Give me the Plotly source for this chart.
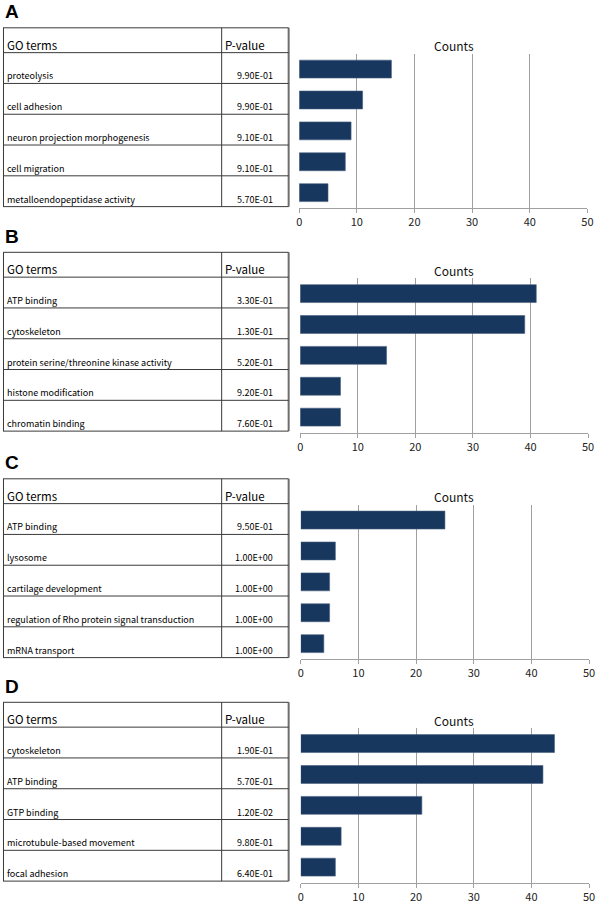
import plotly.graph_objects as go

# ---------------- data ----------------
panel_letters = ["A", "B", "C", "D"]

terms_A = ["proteolysis", "cell adhesion", "neuron projection morphogenesis",
           "cell migration", "metalloendopeptidase activity"]
pvals_A = ["9.90E-01", "9.90E-01", "9.10E-01", "9.10E-01", "5.70E-01"]
counts_A = [16, 11, 9, 8, 5]

terms_B = ["ATP binding", "cytoskeleton", "protein serine/threonine kinase activity",
           "histone modification", "chromatin binding"]
pvals_B = ["3.30E-01", "1.30E-01", "5.20E-01", "9.20E-01", "7.60E-01"]
counts_B = [41, 39, 15, 7, 7]

terms_C = ["ATP binding", "lysosome", "cartilage development",
           "regulation of Rho protein signal transduction", "mRNA transport"]
pvals_C = ["9.50E-01", "1.00E+00", "1.00E+00", "1.00E+00", "1.00E+00"]
counts_C = [25, 6, 5, 5, 4]

terms_D = ["cytoskeleton", "ATP binding", "GTP binding",
           "microtubule-based movement", "focal adhesion"]
pvals_D = ["1.90E-01", "5.70E-01", "1.20E-02", "9.80E-01", "6.40E-01"]
counts_D = [44, 42, 21, 7, 6]

x_ticks = [0, 10, 20, 30, 40, 50]
header_terms = "GO terms"
header_pval = "P-value"
axis_title = "Counts"

# ---------------- layout constants (pixels) ----------------
W, H = 600, 904
panel_top = [28, 254, 482, 707]
plot_x0 = [300.7, 301.7, 302.3, 302.3]
plot_x1 = [593.3, 594.0, 595.0, 595.0]
table_right = 290
col_div = 222
header_h = 25
row_h = 31
bar_color = "#17375e"
grid_color = "#a0a0a0"
line_color = "#3a3a3a"
table_font = "Noto Sans CJK JP, Noto Sans, sans-serif"


def px(x):
    return x / W


def py(y):
    return 1 - y / H


panels = [
    (terms_A, pvals_A, counts_A),
    (terms_B, pvals_B, counts_B),
    (terms_C, pvals_C, counts_C),
    (terms_D, pvals_D, counts_D),
]

fig = go.Figure()
shapes = []
annotations = []
layout_axes = {}

for i, (terms, pvals, counts) in enumerate(panels):
    T = panel_top[i]
    n = len(terms)
    ax = "" if i == 0 else str(i + 1)
    cats = list(range(n))

    fig.add_trace(go.Bar(
        x=counts, y=cats, orientation="h",
        marker=dict(color=bar_color, line=dict(color="#4a5f7e", width=0.6)),
        width=0.58, xaxis="x" + ax, yaxis="y" + ax, showlegend=False,
        hoverinfo="x",
    ))

    layout_axes["xaxis" + ax] = dict(
        domain=[px(plot_x0[i]), px(plot_x1[i])],
        anchor="y" + ax, range=[0, 50], tickvals=x_ticks,
        showgrid=True, gridcolor=grid_color, gridwidth=1,
        zeroline=False, showline=True, linecolor=grid_color, linewidth=1,
        ticks="outside", ticklen=4, tickcolor=grid_color,
        tickfont=dict(family="Noto Sans CJK JP, Noto Sans", size=11, color="#222"),
        fixedrange=True,
    )
    layout_axes["yaxis" + ax] = dict(
        domain=[py(T + 26 + n * row_h + 0.5), py(T + 26)],
        anchor="x" + ax, range=[n - 0.5, -0.5],
        showticklabels=False, showgrid=False, zeroline=False, showline=False,
        fixedrange=True,
    )

    # Counts title
    annotations.append(dict(
        x=px(458), y=py(T + 18), xref="paper", yref="paper",
        text=axis_title, showarrow=False, xanchor="center", yanchor="middle",
        font=dict(family="Noto Sans CJK JP, Noto Sans", size=12, color="#111"),
    ))

    # panel letter
    annotations.append(dict(
        x=px(0), y=py(T - 16), xref="paper", yref="paper",
        text="<b>" + panel_letters[i] + "</b>", showarrow=False,
        xanchor="left", yanchor="middle",
        font=dict(family="Liberation Sans, Arial, sans-serif", size=19, color="#000"),
    ))

    # table lines
    bottom = T + header_h + n * row_h
    shapes.append(dict(type="line", xref="paper", yref="paper",
                       x0=px(0.5), x1=px(0.5), y0=py(T), y1=py(bottom),
                       line=dict(color=line_color, width=1)))
    shapes.append(dict(type="line", xref="paper", yref="paper",
                       x0=px(table_right), x1=px(table_right), y0=py(T), y1=py(bottom),
                       line=dict(color="#6e6e6e", width=2)))
    shapes.append(dict(type="line", xref="paper", yref="paper",
                       x0=px(col_div), x1=px(col_div), y0=py(T), y1=py(bottom),
                       line=dict(color=line_color, width=1)))
    row_lines = [T, T + header_h] + [T + header_h + (k + 1) * row_h for k in range(n)]
    for yy in row_lines:
        shapes.append(dict(type="line", xref="paper", yref="paper",
                           x0=px(0), x1=px(table_right), y0=py(yy), y1=py(yy),
                           line=dict(color=line_color, width=1)))

    # header text
    annotations.append(dict(
        x=px(2), y=py(T + 17), xref="paper", yref="paper",
        text=header_terms, showarrow=False, xanchor="left", yanchor="middle",
        font=dict(family=table_font, size=11.5, color="#000"),
    ))
    annotations.append(dict(
        x=px(col_div + 1), y=py(T + 17), xref="paper", yref="paper",
        text=header_pval, showarrow=False, xanchor="left", yanchor="middle",
        font=dict(family=table_font, size=11.5, color="#000"),
    ))
    # row text
    for k in range(n):
        rb = T + header_h + (k + 1) * row_h
        annotations.append(dict(
            x=px(2), y=py(rb - 7.5), xref="paper", yref="paper",
            text=terms[k], showarrow=False, xanchor="left", yanchor="middle",
            font=dict(family=table_font, size=9, color="#000"),
        ))
        annotations.append(dict(
            x=px(276), y=py(rb - 7.5), xref="paper", yref="paper",
            text=pvals[k], showarrow=False, xanchor="right", yanchor="middle",
            font=dict(family=table_font, size=9, color="#000"),
        ))

fig.update_layout(
    width=W, height=H,
    margin=dict(l=0, r=0, t=0, b=0),
    paper_bgcolor="white", plot_bgcolor="white",
    shapes=shapes, annotations=annotations,
    bargap=0.42,
    **layout_axes,
)

fig.write_html(
    "out.html",
    config={"displayModeBar": False},
    post_script="document.body.style.margin='0';document.body.style.overflow='hidden';",
)
